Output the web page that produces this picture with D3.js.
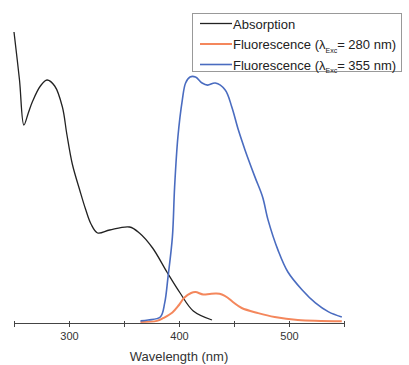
<!DOCTYPE html>
<html>
<head>
<meta charset="utf-8">
<script src="https://cdn.jsdelivr.net/npm/d3@7"></script>
<style>
body { margin: 0; background: #fff; }
svg { font-family: "Liberation Sans", Arial, sans-serif; }
</style>
</head>
<body>
<svg width="409" height="365"></svg>
<script>
// Spectra (wavelength in nm, normalised intensity)
var absWl  = [250, 255, 259, 263, 267, 274, 280, 287, 294, 298, 303, 310, 315, 320, 326, 337, 355, 364, 376, 389, 401, 413, 430];
var absVal = [0.97, 0.81, 0.66, 0.70, 0.74, 0.79, 0.81, 0.79, 0.72, 0.63, 0.53, 0.44, 0.38, 0.33, 0.30, 0.31, 0.32, 0.30, 0.25, 0.17, 0.10, 0.04, 0.01];

var fl280Wl  = [365, 380, 386, 394, 400, 405, 411, 415, 422, 428, 434, 439, 444, 449, 457, 472, 487, 508, 548];
var fl280Val = [0.003, 0.007, 0.017, 0.035, 0.06, 0.085, 0.10, 0.103, 0.095, 0.097, 0.098, 0.095, 0.085, 0.07, 0.05, 0.033, 0.02, 0.01, 0.006];

var fl355Wl  = [365, 372, 383, 387, 390, 394, 396, 399, 403, 406, 410, 415, 421, 426, 433, 442, 448, 454, 460, 469, 476, 481, 490, 499, 512, 524, 536, 548];
var fl355Val = [0.007, 0.01, 0.02, 0.067, 0.153, 0.287, 0.453, 0.62, 0.743, 0.80, 0.82, 0.82, 0.80, 0.793, 0.80, 0.777, 0.72, 0.643, 0.577, 0.487, 0.42, 0.343, 0.243, 0.17, 0.11, 0.067, 0.037, 0.02];

var xTicks = [250, 300, 350, 400, 450, 500, 550];
var xLabels = [300, 400, 500];

var series = [
	{ name: "Absorption", exc: null, wl: absWl, val: absVal, color: "#222222", width: 1.3 },
	{ name: "Fluorescence (\u03bb", exc: "= 280 nm)", wl: fl280Wl, val: fl280Val, color: "#f4875c", width: 2 },
	{ name: "Fluorescence (\u03bb", exc: "= 355 nm)", wl: fl355Wl, val: fl355Val, color: "#4a6cc0", width: 1.6 }
];

var svg = d3.select("svg");

var x = d3.scaleLinear().domain([250, 550]).range([14, 344]);
var y = d3.scaleLinear().domain([0, 1]).range([323, 23]);

// x axis
var axis = svg.append("g")
	.attr("transform", "translate(0," + y(0) + ")")
	.call(d3.axisBottom(x)
		.tickValues(xTicks)
		.tickSizeInner(4)
		.tickSizeOuter(0)
		.tickPadding(5)
		.tickFormat((d) => xLabels.indexOf(d) >= 0 ? d : ""));
axis.select(".domain").attr("stroke", "#444").attr("stroke-width", 1);
axis.selectAll(".tick line").attr("stroke", "#444").attr("y1", -2);
axis.selectAll(".tick text").attr("fill", "#333").attr("font-size", 11)
	.attr("font-family", "Liberation Sans, Arial, sans-serif");

svg.append("text")
	.attr("x", x(400))
	.attr("y", 361)
	.attr("text-anchor", "middle")
	.attr("font-size", 13)
	.attr("fill", "#333")
	.text("Wavelength (nm)");

// curves
var line = d3.line()
	.x((d) => x(d[0]))
	.y((d) => y(d[1]))
	.curve(d3.curveCatmullRom.alpha(0.5));

series.forEach(function (s) {
	svg.append("path")
		.datum(s.wl.map((w, i) => [w, s.val[i]]))
		.attr("fill", "none")
		.attr("stroke", s.color)
		.attr("stroke-width", s.width)
		.attr("stroke-linejoin", "round")
		.attr("d", line);
});

// legend
var legend = svg.append("g");
legend.append("rect")
	.attr("x", 192.5).attr("y", 13.5)
	.attr("width", 209).attr("height", 58)
	.attr("fill", "#fff")
	.attr("stroke", "#999");

var row = legend.selectAll("g.row")
	.data(series)
	.enter().append("g")
	.attr("class", "row")
	.attr("transform", (d, i) => "translate(0," + (23.5 + i * 20.5) + ")");

row.append("line")
	.attr("x1", 200).attr("x2", 232)
	.attr("stroke", (d) => d.color)
	.attr("stroke-width", (d) => d.width);

var label = row.append("text")
	.attr("x", 233)
	.attr("y", 5)
	.attr("font-size", 13)
	.attr("fill", "#222");
label.append("tspan").text((d) => d.name);
label.filter((d) => d.exc).append("tspan")
	.attr("font-size", 7)
	.attr("dy", 3.5)
	.text("Exc");
label.filter((d) => d.exc).append("tspan")
	.attr("dy", -3.5)
	.text((d) => d.exc);
</script>
</body>
</html>
